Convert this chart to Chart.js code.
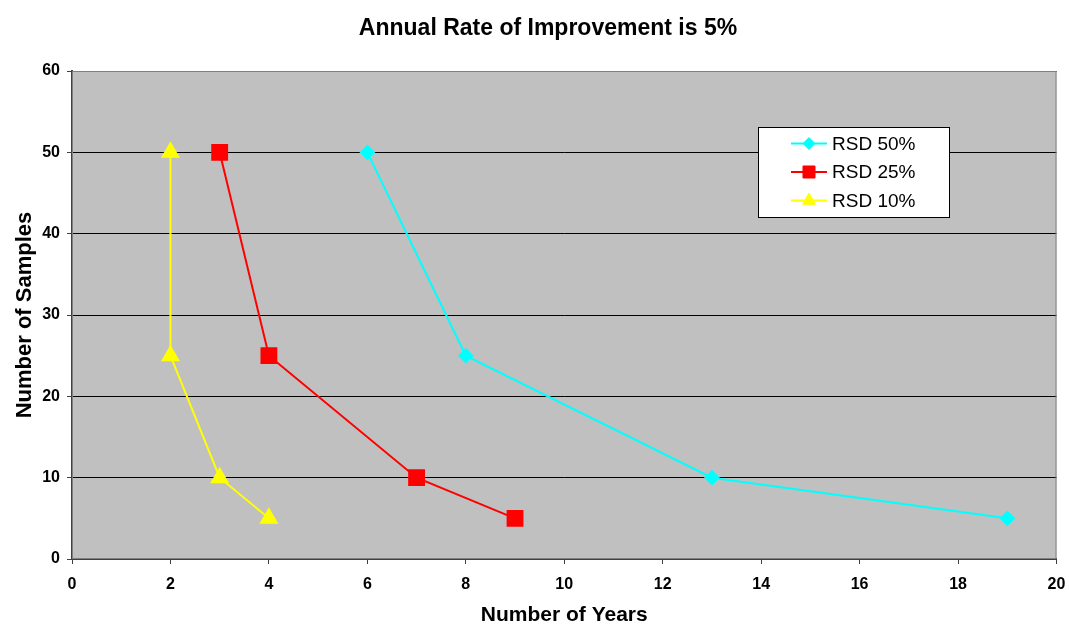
<!DOCTYPE html>
<html>
<head>
  <meta charset="UTF-8">
  <title>Annual Rate of Improvement is 5%</title>
  <script src="https://cdn.jsdelivr.net/npm/chart.js@4.4.0/dist/chart.umd.min.js"></script>
  <style>
    body { margin: 0; background: #fff; }
    #wrap { width: 1069px; height: 624px; }
  </style>
</head>
<body>
  <div id="wrap"><canvas id="chart" width="1069" height="624"></canvas></div>
  <script>
    const chartTitle = 'Annual Rate of Improvement is 5%';
    const seriesNames = ['RSD 50%', 'RSD 25%', 'RSD 10%'];
    const rsd50Years = [6, 8, 13, 19];
    const rsd50Samples = [50, 25, 10, 5];
    const rsd25Years = [3, 4, 7, 9];
    const rsd25Samples = [50, 25, 10, 5];
    const rsd10Years = [2, 2, 3, 4];
    const rsd10Samples = [50, 25, 10, 5];
    const xTicks = [0, 2, 4, 6, 8, 10, 12, 14, 16, 18, 20];
    const yTicks = [0, 10, 20, 30, 40, 50, 60];

    const FONT = '"Liberation Sans", Arial, sans-serif';
    const pts = (xs, ys) => xs.map((x, i) => ({ x: x, y: ys[i] }));

    // title drawn by hand so it sits where the original has it
    const topTitle = {
      id: 'topTitle',
      afterDraw(chart) {
        const ctx = chart.ctx;
        ctx.save();
        ctx.font = 'bold 23px ' + FONT;
        ctx.fillStyle = '#000';
        ctx.textAlign = 'center';
        ctx.textBaseline = 'middle';
        ctx.fillText(chartTitle, 548, 29);
        ctx.restore();
      }
    };

    // legend box drawn inside the plot area, like the original
    const boxLegend = {
      id: 'boxLegend',
      afterDraw(chart) {
        const ctx = chart.ctx;
        const x0 = 758, y0 = 127, w = 191, h = 90;
        const legendRadius = [6, 8.5, 7.5];
        ctx.save();
        ctx.fillStyle = '#fff';
        ctx.fillRect(x0, y0, w, h);
        ctx.strokeStyle = '#000';
        ctx.lineWidth = 1;
        ctx.strokeRect(x0 + 0.5, y0 + 0.5, w, h);
        ctx.font = '19px ' + FONT;
        ctx.textBaseline = 'middle';
        chart.data.datasets.forEach((ds, i) => {
          const cy = y0 + 16.5 + i * 28.5;
          ctx.strokeStyle = ds.borderColor;
          ctx.lineWidth = 2;
          ctx.beginPath();
          ctx.moveTo(x0 + 33, cy);
          ctx.lineTo(x0 + 69, cy);
          ctx.stroke();
          ctx.fillStyle = ds.pointBackgroundColor;
          ctx.strokeStyle = ds.pointBackgroundColor;
          ctx.lineWidth = 1;
          Chart.helpers.drawPoint(ctx, {
            pointStyle: ds.pointStyle, radius: legendRadius[i], rotation: 0, borderWidth: 1
          }, x0 + 51, cy);
          ctx.fillStyle = '#000';
          ctx.fillText(ds.label, x0 + 74, cy + 1);
        });
        ctx.restore();
      }
    };

    const plotBg = {
      id: 'plotBg',
      beforeDraw(chart) {
        const a = chart.chartArea;
        chart.ctx.save();
        chart.ctx.fillStyle = '#c0c0c0';
        chart.ctx.fillRect(a.left, a.top, a.right - a.left, a.bottom - a.top);
        chart.ctx.restore();
      },
      beforeDatasetsDraw(chart) {
        const a = chart.chartArea;
        chart.ctx.save();
        chart.ctx.strokeStyle = '#808080';
        chart.ctx.lineWidth = 1;
        chart.ctx.strokeRect(a.left + 0.5, a.top + 0.5, a.right - a.left - 1, a.bottom - a.top - 1);
        chart.ctx.restore();
      }
    };

    const mk = (label, data, color, style, r) => ({
      label: label,
      data: data,
      showLine: true,
      borderColor: color,
      backgroundColor: color,
      pointBackgroundColor: color,
      pointBorderColor: color,
      borderWidth: 2,
      pointStyle: style,
      pointRadius: r,
      pointHoverRadius: r,
      tension: 0
    });

    new Chart(document.getElementById('chart'), {
      type: 'scatter',
      data: {
        datasets: [
          mk(seriesNames[0], pts(rsd50Years, rsd50Samples), '#00ffff', 'rectRot', 6.5),
          mk(seriesNames[1], pts(rsd25Years, rsd25Samples), '#ff0000', 'rect', 10.5),
          mk(seriesNames[2], pts(rsd10Years, rsd10Samples), '#ffff00', 'triangle', 9)
        ]
      },
      options: {
        responsive: false,
        animation: false,
        layout: { padding: { left: 0, right: 10, top: 71, bottom: 0 } },
        plugins: {
          legend: { display: false },
          tooltip: { enabled: false },
          title: { display: false }
        },
        scales: {
          x: {
            type: 'linear',
            min: 0, max: 20,
            afterBuildTicks: (s) => { s.ticks = xTicks.map(v => ({ value: v })); },
            afterFit: (s) => { s.height = 65; s.paddingLeft = 0; s.paddingRight = 0; },
            grid: { drawOnChartArea: false, drawTicks: true, tickLength: 5, color: '#404040' },
            border: { color: '#404040', width: 2 },
            ticks: {
              color: '#000', padding: 11,
              font: { family: FONT, size: 16, weight: 'bold' }
            },
            title: {
              display: true, text: 'Number of Years', color: '#000',
              font: { family: FONT, size: 21, weight: 'bold', lineHeight: 0.8 },
              padding: { top: 0, bottom: 0 }
            }
          },
          y: {
            type: 'linear',
            min: 0, max: 60,
            afterBuildTicks: (s) => { s.ticks = yTicks.map(v => ({ value: v })); },
            afterFit: (s) => { s.width = 72; s.paddingTop = 0; s.paddingBottom = 0; },
            grid: { color: '#000', lineWidth: 1, drawTicks: true, tickLength: 5, tickColor: '#404040' },
            border: { color: '#404040', width: 2 },
            ticks: {
              color: '#000', padding: 7,
              font: { family: FONT, size: 16, weight: 'bold' }
            },
            title: {
              display: true, text: 'Number of Samples', color: '#000',
              font: { family: FONT, size: 22, weight: 'bold' },
              padding: { top: 12, bottom: 0 }
            }
          }
        }
      },
      plugins: [plotBg, boxLegend, topTitle]
    });
  </script>
</body>
</html>
